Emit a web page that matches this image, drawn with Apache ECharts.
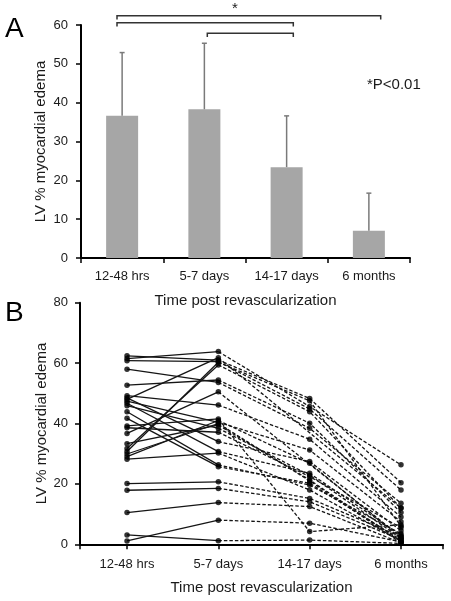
<!DOCTYPE html>
<html>
<head>
<meta charset="utf-8">
<script src="https://cdn.jsdelivr.net/npm/echarts@6/dist/echarts.min.js"></script>
<style>
html,body{margin:0;padding:0;background:#fff;}
#c{width:451px;height:601px;}
</style>
</head>
<body>
<div id="c"></div>
<script>
// ---- Panel A data ----
const categories = ['12-48 hrs', '5-7 days', '14-17 days', '6 months'];
const meanEdema = [36.6, 38.3, 23.4, 7.0];
const sdEdema = [16.3, 17.0, 13.2, 9.7];

// ---- Panel B data (one entry per patient) ----
const day1   = [62.4,61.5,60.8,58.0,52.7,49.2,48.5,48.0,47.4,46.7,45.9,43.9,41.7,39.2,38.6,36.7,33.3,31.7,30.7,29.9,29.0,28.2,20.1,17.9,10.5,3.1,1.1];
const day5   = [61.0,63.8,60.5,53.6,54.4,46.1,34.0,61.8,40.4,30.7,38.4,26.3,25.7,41.5,37.1,50.5,39.5,59.4,60.3,40.0,41.0,30.2,20.7,18.5,13.8,1.2,8.0];
const day14  = [48.3,45.6,44.8,38.4,40.1,34.8,27.4,null,31.2,23.5,22.9,19.6,20.2,4.2,22.4,null,21.3,43.9,47.5,21.0,26.8,18.0,15.2,14.1,12.5,1.4,7.0];
const month6 = [20.4,26.3,18.0,13.6,10.5,9.0,4.5,12.0,7.5,3.0,2.0,3.5,1.5,6.5,5.5,2.5,1.0,12.0,6.0,0.5,2.0,1.0,2.5,1.5,0.5,0.3,0.8];

const FONT = '"Liberation Sans", Arial, sans-serif';
const TXT = '#1a1a1a';

const series = [];

// Panel A bars
series.push({
  type: 'bar', xAxisIndex: 0, yAxisIndex: 0,
  data: meanEdema, barWidth: 32,
  itemStyle: { color: '#a6a6a6' }, z: 2
});
// Panel A error bars
series.push({
  type: 'custom', xAxisIndex: 0, yAxisIndex: 0, z: 3,
  data: categories.map((c, i) => [i, meanEdema[i], sdEdema[i]]),
  renderItem: function (params, api) {
    const x = api.value(0), m = api.value(1), s = api.value(2);
    const b = api.coord([x, m]);
    const t = api.coord([x, m + s]);
    const st = { stroke: '#7a7a7a', lineWidth: 1.5 };
    return { type: 'group', children: [
      { type: 'line', shape: { x1: b[0], y1: b[1], x2: t[0], y2: t[1] }, style: st },
      { type: 'line', shape: { x1: t[0] - 2.5, y1: t[1], x2: t[0] + 2.5, y2: t[1] }, style: st }
    ]};
  }
});

// Panel B lines
const allPts = [];
for (let i = 0; i < day1.length; i++) {
  series.push({
    type: 'line', xAxisIndex: 1, yAxisIndex: 1, showSymbol: false,
    data: [[0, day1[i]], [1, day5[i]]],
    lineStyle: { color: '#151515', width: 1.3, type: 'solid' }, z: 2, silent: true
  });
  const d = [[1, day5[i]], [2, day14[i]], [3, month6[i]]].filter(p => p[1] !== null);
  series.push({
    type: 'line', xAxisIndex: 1, yAxisIndex: 1, showSymbol: false,
    data: d,
    lineStyle: { color: '#151515', width: 1.3, type: [3.5, 2] }, z: 2, silent: true
  });
  [day1[i], day5[i], day14[i], month6[i]].forEach((v, k) => { if (v !== null) allPts.push([k, v]); });
}
series.push({
  type: 'scatter', xAxisIndex: 1, yAxisIndex: 1, data: allPts,
  symbol: 'circle', symbolSize: 5.5, itemStyle: { color: '#000' }, z: 4
});

const axisLineStyle = { color: '#000', width: 2 };

const option = {
  animation: false,
  backgroundColor: '#fff',
  textStyle: { fontFamily: FONT },
  grid: [
    { left: 81, top: 25, width: 329, height: 233 },
    { left: 80, top: 302.7, width: 363, height: 241.6 }
  ],
  xAxis: [
    {
      type: 'category', gridIndex: 0, data: categories, boundaryGap: true,
      axisLine: { lineStyle: axisLineStyle },
      axisTick: { show: true, length: 5, lineStyle: { color: '#000', width: 1.5 } },
      axisLabel: { color: TXT, fontSize: 13, fontFamily: FONT, margin: 12, interval: 0 },
      name: 'Time post revascularization', nameLocation: 'middle', nameGap: 35,
      nameTextStyle: { color: TXT, fontSize: 15, fontFamily: FONT }
    },
    {
      type: 'value', gridIndex: 1, min: -0.515, max: 3.46,
      splitLine: { show: false },
      axisLine: { onZero: false, lineStyle: axisLineStyle },
      axisTick: { show: true, length: 5, customValues: [-0.515, 0, 1, 2, 3, 3.46], lineStyle: { color: '#000', width: 1.5 } },
      axisLabel: { color: TXT, fontSize: 13, fontFamily: FONT, margin: 14, customValues: [0, 1, 2, 3],
        formatter: v => categories[Math.round(v)] },
      name: 'Time post revascularization', nameLocation: 'middle', nameGap: 36,
      nameTextStyle: { color: TXT, fontSize: 15, fontFamily: FONT }
    }
  ],
  yAxis: [
    {
      type: 'value', gridIndex: 0, min: 0, max: 60, interval: 10,
      splitLine: { show: false },
      axisLine: { show: true, onZero: false, lineStyle: axisLineStyle },
      axisTick: { show: true, length: 5, lineStyle: { color: '#000', width: 1.5 } },
      axisLabel: { color: TXT, fontSize: 13, fontFamily: FONT, margin: 13 },
      name: 'LV % myocardial edema', nameLocation: 'middle', nameGap: 33, nameMoveOverlap: false,
      nameTextStyle: { color: TXT, fontSize: 15, fontFamily: FONT }
    },
    {
      type: 'value', gridIndex: 1, min: 0, max: 80, interval: 20,
      splitLine: { show: false },
      axisLine: { show: true, onZero: false, lineStyle: axisLineStyle },
      axisTick: { show: true, length: 5, lineStyle: { color: '#000', width: 1.5 } },
      axisLabel: { color: TXT, fontSize: 13, fontFamily: FONT, margin: 12 },
      name: 'LV % myocardial edema', nameLocation: 'middle', nameGap: 31, nameMoveOverlap: false,
      nameTextStyle: { color: TXT, fontSize: 15, fontFamily: FONT }
    }
  ],
  graphic: [
    { type: 'text', x: 5, y: 29, style: { text: 'A', font: '28px ' + FONT, fill: '#000', textAlign: 'left', textVerticalAlign: 'middle' } },
    { type: 'text', x: 5, y: 313, style: { text: 'B', font: '28px ' + FONT, fill: '#000', textAlign: 'left', textVerticalAlign: 'middle' } },
    { type: 'text', x: 367, y: 85, style: { text: '*P<0.01', font: '15px ' + FONT, fill: TXT, textAlign: 'left', textVerticalAlign: 'middle' } },
    { type: 'text', x: 235, y: 9, style: { text: '*', font: '15px ' + FONT, fill: TXT, textAlign: 'center', textVerticalAlign: 'middle' } },
    { type: 'polyline', shape: { points: [[117, 19.5], [117, 15.7], [380.7, 15.7], [380.7, 19.5]] }, style: { stroke: '#333', lineWidth: 1.5, fill: null } },
    { type: 'polyline', shape: { points: [[117, 26.5], [117, 22.7], [293.3, 22.7], [293.3, 26.5]] }, style: { stroke: '#333', lineWidth: 1.5, fill: null } },
    { type: 'polyline', shape: { points: [[207.3, 37], [207.3, 33.3], [293.3, 33.3], [293.3, 37]] }, style: { stroke: '#333', lineWidth: 1.5, fill: null } }
  ],
  series: series
};

const chart = echarts.init(document.getElementById('c'), null, { renderer: 'canvas' });
chart.setOption(option);
</script>
</body>
</html>
